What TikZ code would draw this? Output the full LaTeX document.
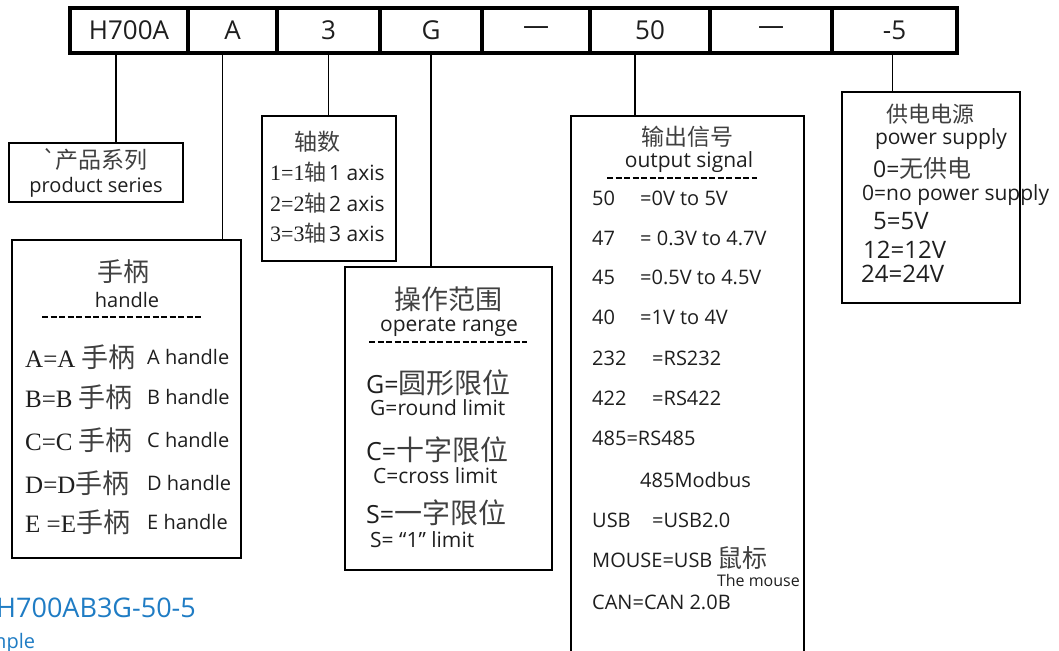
\documentclass[tikz,border=0pt]{standalone}
\usepackage{fontspec}
\setsansfont{Open Sans}
\newfontfamily\cjk{Noto Sans CJK SC}
\newfontfamily\serifnum{Liberation Serif}
\usepackage{tikz}
\usetikzlibrary{positioning, calc}

\newcommand{\fs}[1]{\fontsize{#1pt}{#1pt}\selectfont}

\definecolor{inkgray}{HTML}{1E1E1E}
\definecolor{cjkgray}{HTML}{404040}
\definecolor{exblue}{HTML}{1F7CC4}

\tikzset{
  cell/.style={draw, line width=4pt, minimum height=45pt, inner sep=0pt, outer sep=0pt, text=inkgray, font=\sffamily\fs{26}},
  infobox/.style={draw, line width=1.6pt, inner sep=0pt, outer sep=0pt, anchor=north west},
  link/.style={line width=1.5pt},
  rule/.style={line width=1.5pt, dash pattern=on 6pt off 2.5pt},
  txt/.style={inner sep=0pt, text=inkgray},
}

\begin{document}
\begin{tikzpicture}[x=1pt, y=-1pt, every node/.style={font=\sffamily}]
    \useasboundingbox (0,0) rectangle (1059,650);

    % Code cells along the top
    \node[cell, minimum width=118pt, anchor=north west] (c1) at (70,8) {H700A};
    \node[cell, minimum width=89pt, right=0pt of c1] (c2) {A};
    \node[cell, minimum width=103pt, right=0pt of c2] (c3) {3};
    \node[cell, minimum width=102pt, right=0pt of c3] (c4) {G};
    \node[cell, minimum width=108pt, right=0pt of c4] (c5) {—};
    \node[cell, minimum width=120pt, right=0pt of c5] (c6) {50};
    \node[cell, minimum width=122pt, right=0pt of c6] (c7) {—};
    \node[cell, minimum width=125pt, right=0pt of c7] (c8) {-5};

    % Explanation boxes
    \node[infobox, minimum width=174pt, minimum height=59pt] (prod) at (9,143) {};
    \node[infobox, minimum width=229pt, minimum height=318pt] (handle) at (12,240) {};
    \node[infobox, minimum width=134pt, minimum height=145pt] (axis) at (262,116) {};
    \node[infobox, minimum width=207pt, minimum height=303pt] (range) at (345,267) {};
    \node[infobox, minimum width=233pt, minimum height=560pt] (signal) at (571,116) {};
    \node[infobox, minimum width=178pt, minimum height=211pt] (power) at (842,92) {};

    % Connectors
    \draw[link] ([xshift=-13pt]c1.south) -- ([xshift=-13pt]c1.south |- prod.north);
    \draw[link] ([xshift=-10pt]c2.south) -- ([xshift=-10pt]c2.south |- handle.north);
    \draw[link] (c3.south) -- (c3.south |- axis.north);
    \draw[link] (c4.south) -- (c4.south |- range.north);
    \draw[link] ([xshift=-15pt]c6.south) -- ([xshift=-15pt]c6.south |- signal.north);
    \draw[link] ([xshift=-2pt]c8.south) -- ([xshift=-2pt]c8.south |- power.north);

    % Product series
    \node[txt, text=cjkgray, font=\cjk\fs{23}] (prodzh) at (95,159) {\textasciigrave 产品系列};
    \node[txt, font=\sffamily\fs{20}] (proden) at (96,187) {product series};

    % Handle
    \node[txt, text=cjkgray, font=\cjk\fs{26}] (handlezh) at (123,272) {手柄};
    \node[txt, font=\sffamily\fs{20}] (handleen) at (127,300) {handle};
    \draw[rule] (42,317) -- (203,317);
    \foreach \y/\a/\b [count=\i] in {357/{A=A\ }/A, 397/{B=B\ }/B, 440/{C=C\ }/C, 483/{D=D}/D, 522/{E\ =E}/E}{
        \node[txt, anchor=west] (hk\i) at (25,\y) {{\serifnum\fs{25}\a}{\cjk\fs{27}\color{cjkgray}手柄}};
        \node[txt, anchor=west, font=\sffamily\fs{20}] (he\i) at (147,\y) {\b\ handle};
    }

    % Axis count
    \node[txt, text=cjkgray, font=\cjk\fs{23}] (axiszh) at (317,142) {轴数};
    \foreach \y/\n in {172/1, 203/2, 233/3}{
        \node[txt, anchor=west] (ax\n) at (270,\y) {{\serifnum\fs{22}\n=\n}{\cjk\fs{22}\color{cjkgray}轴}\ {\sffamily\fs{21}\n\ axis}};
    }

    % Operate range
    \node[txt, text=cjkgray, font=\cjk\fs{27}] (rangezh) at (448,299) {操作范围};
    \node[txt, font=\sffamily\fs{21}] (rangeen) at (449,327) {operate range};
    \draw[rule] (369,342) -- (527,342);
    \foreach \y/\k/\z [count=\i] in {383/G/圆形限位, 450/C/十字限位, 513/S/一字限位}{
        \node[txt, anchor=west] (rk\i) at (366,\y) {{\sffamily\fs{25}\k=}{\cjk\fs{28}\color{cjkgray}\z}};
    }
    \node[txt, anchor=west, font=\sffamily\fs{21}] (re1) at (370,408) {G=round limit};
    \node[txt, anchor=west, font=\sffamily\fs{21}] (re2) at (373,476) {C=cross limit};
    \node[txt, anchor=west, font=\sffamily\fs{21}] (re3) at (370,540) {S=\ “1”\ limit};

    % Output signal
    \node[txt, text=cjkgray, font=\cjk\fs{23}] (signalzh) at (687,137) {输出信号};
    \node[txt, font=\sffamily\fs{21}] (signalen) at (689,162) {output signal};
    \draw[rule] (607,178) -- (757,178);
    \foreach \y/\a/\b [count=\i] in {198/50/{=0V to 5V}, 238/47/{= 0.3V to 4.7V}, 277/45/{=0.5V to 4.5V}, 317/40/{=1V to 4V}}{
        \node[txt, anchor=west, font=\sffamily\fs{20}] (sa\i) at (592,\y) {\a};
        \node[txt, anchor=west, font=\sffamily\fs{20}] (sb\i) at (640,\y) {\b};
    }
    \foreach \y/\a/\b [count=\i] in {358/232/=RS232, 398/422/=RS422, 520/USB/=USB2.0}{
        \node[txt, anchor=west, font=\sffamily\fs{20}] (sc\i) at (592,\y) {\a};
        \node[txt, anchor=west, font=\sffamily\fs{20}] (sd\i) at (652,\y) {\b};
    }
    \node[txt, anchor=west, font=\sffamily\fs{20}] (s485) at (592,438) {485=RS485};
    \node[txt, anchor=west, font=\sffamily\fs{20}] (smod) at (640,480) {485Modbus};
    \node[txt, anchor=west] (smouse) at (592,558) {{\sffamily\fs{20}MOUSE=USB\ }{\cjk\fs{25}\color{cjkgray}鼠标}};
    \node[txt, anchor=east, font=\sffamily\fs{16}] (smouseen) at (800,580) {The mouse};
    \node[txt, anchor=west, font=\sffamily\fs{20}] (scan) at (592,602) {CAN=CAN 2.0B};

    % Power supply
    \node[txt, text=cjkgray, font=\cjk\fs{22}] (powerzh) at (930,114) {供电电源};
    \node[txt, font=\sffamily\fs{21}] (poweren) at (941,139) {power supply};
    \node[txt, anchor=west] (p0) at (873,168) {{\sffamily\fs{23}0=}{\cjk\fs{24}\color{cjkgray}无供电}};
    \node[txt, anchor=west, font=\sffamily\fs{21}] (p0en) at (862,195) {0=no power supply};
    \node[txt, anchor=west, font=\sffamily\fs{24}] (p5) at (873,221) {5=5V};
    \node[txt, anchor=west, font=\sffamily\fs{24}] (p12) at (863,250) {12=12V};
    \node[txt, anchor=west, font=\sffamily\fs{24}] (p24) at (861,274) {24=24V};

    % Example code, bottom left
    \node[txt, anchor=west, text=exblue, font=\sffamily\fs{27}] (excode) at (-4,608) {H700AB3G-50-5};
    \node[txt, anchor=base west, text=exblue, font=\sffamily\fs{20}] (exlabel) at (-45,648) {Example};
\end{tikzpicture}
\end{document}
